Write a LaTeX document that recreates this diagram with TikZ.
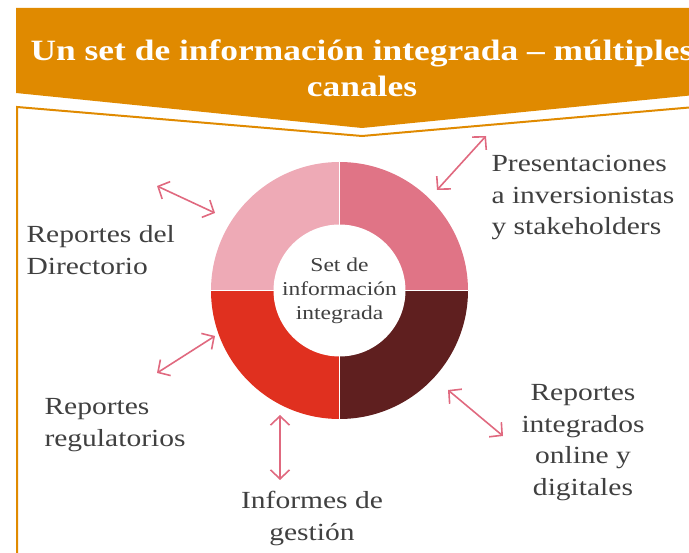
\documentclass[tikz,border=0pt]{standalone}
\usepackage{fontspec}
\setmainfont{Liberation Serif}[FakeStretch=1.2]
\usetikzlibrary{arrows.meta}
\definecolor{banner}{HTML}{E08A00}
\definecolor{ink}{HTML}{404040}
\definecolor{link}{HTML}{E0697F}
\definecolor{segA}{HTML}{E07486}
\definecolor{segB}{HTML}{EEAAB6}
\definecolor{segC}{HTML}{E0301F}
\definecolor{segD}{HTML}{5F1F1F}
\tikzset{
  frame/.style={draw=banner, line width=2pt},
  link/.style={draw=link, line width=1.6pt, {Straight Barb[length=9pt,width=19pt]}-{Straight Barb[length=9pt,width=19pt]}},
  title/.style={text=white, font=\fontsize{29.5}{36}\selectfont\bfseries, align=center},
  lbl/.style={text=ink, font=\fontsize{24.6}{31.5}\selectfont},
  core/.style={circle, fill=white, minimum size=128pt, inner sep=0pt, text=ink, align=center, font=\fontsize{19.6}{24}\selectfont}
}
\begin{document}
\begin{tikzpicture}[x=1pt,y=-1pt]
  \useasboundingbox (0,0) rectangle (689,553);

  % banner and frame
  \fill[banner] (16,8) -- (695,8) -- (695,95) -- (362,128) -- (16,93) -- cycle;
  \draw[frame] (17,560) -- (17,107) -- (362,136) -- (695,107);
  \node[title] (head) at (362,68) {Un set de información integrada – múltiples\\canales};

  % donut (y is flipped, so angles run clockwise on the page)
  \coordinate (D) at (339.5,290.5);
  \def\R{128.5}
  \fill[segA] (D) -- ++(0,-\R) arc[start angle=-90,end angle=0,radius=\R] -- cycle;
  \fill[segB] (D) -- ++(-\R,0) arc[start angle=180,end angle=270,radius=\R] -- cycle;
  \fill[segC] (D) -- ++(-\R,0) arc[start angle=180,end angle=90,radius=\R] -- cycle;
  \fill[segD] (D) -- ++(\R,0) arc[start angle=0,end angle=90,radius=\R] -- cycle;
  \draw[white, line width=0.8pt] (D) ++(0,-\R) -- ++(0,2*\R);
  \draw[white, line width=0.8pt] (D) ++(-\R,0) -- ++(2*\R,0);
  \node[core] (set) at (D) {Set de\\información\\integrada};

  % channels
  \node[lbl, anchor=north west, align=left] (pres) at (488,152) {Presentaciones\\a inversionistas\\y stakeholders};
  \node[lbl, anchor=north west, align=left] (dir) at (23,222) {Reportes del\\Directorio};
  \node[lbl, anchor=north west, align=left] (reg) at (41,395) {Reportes\\regulatorios};
  \node[lbl, anchor=north, align=center] (ges) at (312,488) {Informes de\\gestión};
  \node[lbl, anchor=north, align=center] (onl) at (583,381) {Reportes\\integrados\\online y\\digitales};

  % arrows
  \coordinate (a1) at (437,190); \coordinate (b1) at (486,136);
  \coordinate (a2) at (215,213); \coordinate (b2) at (157,186);
  \coordinate (a3) at (215,336); \coordinate (b3) at (157,373);
  \coordinate (a4) at (280,415); \coordinate (b4) at (280,480);
  \coordinate (a5) at (448,390); \coordinate (b5) at (503,436);
  \foreach \i in {1,...,5}
    \draw[link] (a\i) -- (b\i);
\end{tikzpicture}
\end{document}
